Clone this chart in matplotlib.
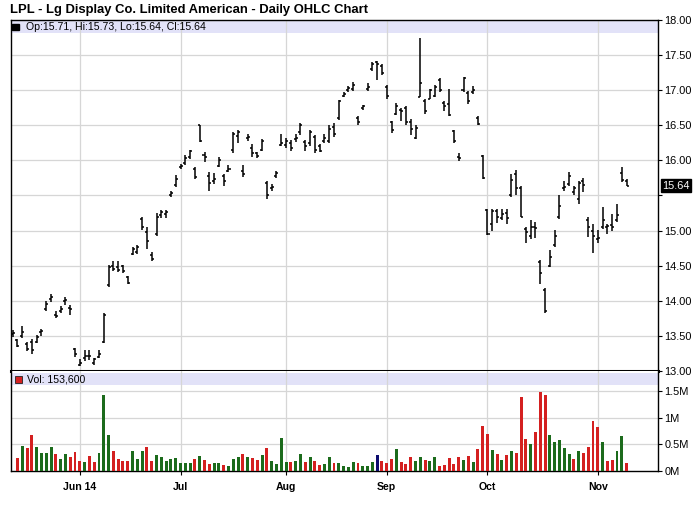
import numpy as np
import pandas as pd
import matplotlib
matplotlib.use("Agg")
import matplotlib.pyplot as plt
from matplotlib.patches import Rectangle

plt.rcParams['font.family'] = ['Liberation Sans', 'DejaVu Sans']

title = "LPL - Lg Display Co. Limited American - Daily OHLC Chart"
start_date = "2014-05-12"
end_date = "2014-11-11"
holidays = ["2014-05-26", "2014-07-04", "2014-09-01"]

opens = [13.53, 13.44, 13.50, 13.38, 13.42, 13.42, 13.55, 13.88, 14.02, 13.80,
         13.85, 14.00, 13.90, 13.32, 13.08, 13.18, 13.22, 13.12, 13.20, 13.42,
         14.22, 14.50, 14.48, 14.49, 14.34, 14.66, 14.70, 15.16, 14.98, 14.65,
         14.95, 15.22, 15.24, 15.50, 15.65, 15.90, 15.96, 16.05, 15.88, 16.50,
         16.08, 15.78, 15.70, 15.92, 15.78, 15.85, 16.15, 16.35, 15.85, 16.32,
         16.18, 16.10, 16.15, 15.68, 15.60, 15.78, 16.22, 16.22, 16.25, 16.30,
         16.40, 16.26, 16.25, 16.34, 16.20, 16.28, 16.28, 16.48, 16.60, 16.92,
         17.00, 17.02, 16.60, 16.74, 17.02, 17.30, 17.40, 17.35, 17.05, 16.54,
         16.66, 16.72, 16.75, 16.55, 16.32, 16.91, 16.85, 16.88, 16.92, 17.15,
         16.82, 16.80, 16.42, 16.05, 17.00, 16.96, 16.97, 16.60, 16.06, 15.30,
         15.10, 15.28, 15.18, 15.25, 15.50, 15.80, 15.60, 15.02, 14.92, 15.05,
         14.55, 14.15, 14.50, 14.80, 15.20, 15.60, 15.66, 15.55, 15.45, 15.70,
         15.15, 15.00, 14.88, 15.05, 15.05, 15.08, 15.15, 15.82, 15.71]
highs = [13.58, 13.45, 13.64, 13.41, 13.46, 13.51, 13.60, 14.00, 14.09, 13.85,
         13.92, 14.05, 13.94, 13.33, 13.17, 13.30, 13.30, 13.19, 13.30, 13.83,
         14.51, 14.56, 14.56, 14.51, 14.36, 14.77, 14.79, 15.19, 15.05, 14.69,
         15.25, 15.29, 15.29, 15.57, 15.79, 15.95, 16.07, 16.15, 15.90, 16.51,
         16.12, 15.83, 15.82, 16.05, 15.80, 15.93, 16.41, 16.44, 15.94, 16.38,
         16.24, 16.12, 16.31, 15.71, 15.67, 15.85, 16.38, 16.32, 16.29, 16.38,
         16.53, 16.29, 16.44, 16.36, 16.24, 16.37, 16.50, 16.53, 16.86, 16.98,
         17.06, 17.12, 16.63, 16.79, 17.10, 17.40, 17.42, 17.37, 17.07, 16.56,
         16.82, 16.75, 16.77, 16.59, 16.50, 17.74, 16.88, 17.02, 17.08, 17.17,
         16.85, 17.01, 16.44, 16.10, 17.19, 16.99, 17.06, 16.63, 16.08, 15.31,
         15.31, 15.31, 15.31, 15.31, 15.81, 15.87, 15.63, 15.05, 15.15, 15.12,
         14.58, 14.18, 14.72, 15.01, 15.50, 15.71, 15.83, 15.63, 15.71, 15.75,
         15.19, 15.10, 15.01, 15.33, 15.09, 15.23, 15.38, 15.90, 15.73]
lows = [13.48, 13.34, 13.47, 13.29, 13.24, 13.40, 13.50, 13.86, 13.98, 13.75,
        13.83, 13.94, 13.80, 13.20, 13.07, 13.14, 13.15, 13.09, 13.18, 13.40,
        14.20, 14.43, 14.41, 14.40, 14.24, 14.65, 14.67, 15.01, 14.74, 14.57,
        14.93, 15.18, 15.18, 15.48, 15.62, 15.88, 15.94, 16.02, 15.74, 16.26,
        15.98, 15.57, 15.67, 15.90, 15.64, 15.83, 16.10, 16.25, 15.76, 16.28,
        16.05, 16.04, 16.13, 15.45, 15.57, 15.75, 16.21, 16.17, 16.14, 16.26,
        16.36, 16.13, 16.21, 16.10, 16.12, 16.25, 16.25, 16.33, 16.58, 16.90,
        16.98, 16.99, 16.51, 16.72, 16.99, 17.28, 17.15, 17.21, 16.88, 16.39,
        16.64, 16.56, 16.51, 16.36, 16.30, 16.90, 16.66, 16.87, 16.90, 16.98,
        16.71, 16.63, 16.25, 15.99, 16.98, 16.81, 16.94, 16.50, 15.74, 14.94,
        15.00, 15.11, 15.15, 15.10, 15.48, 15.50, 15.19, 14.82, 14.88, 14.90,
        14.24, 13.83, 14.48, 14.76, 15.17, 15.57, 15.64, 15.50, 15.38, 15.55,
        14.91, 14.68, 14.82, 15.02, 14.95, 14.99, 15.12, 15.69, 15.64]
closes = [13.54, 13.36, 13.55, 13.32, 13.30, 13.48, 13.57, 13.96, 14.05, 13.79,
          13.88, 14.01, 13.88, 13.24, 13.12, 13.22, 13.21, 13.17, 13.24, 13.80,
          14.48, 14.45, 14.44, 14.42, 14.26, 14.74, 14.76, 15.05, 14.85, 14.60,
          15.20, 15.26, 15.27, 15.53, 15.74, 15.92, 16.03, 16.13, 15.76, 16.28,
          16.05, 15.68, 15.74, 16.00, 15.70, 15.88, 16.38, 16.40, 15.80, 16.34,
          16.10, 16.06, 16.28, 15.50, 15.62, 15.82, 16.25, 16.28, 16.18, 16.32,
          16.50, 16.20, 16.40, 16.15, 16.14, 16.32, 16.45, 16.38, 16.84, 16.95,
          17.03, 17.08, 16.55, 16.77, 17.05, 17.38, 17.38, 17.25, 16.92, 16.44,
          16.78, 16.70, 16.55, 16.45, 16.46, 17.10, 16.70, 17.00, 17.05, 17.00,
          16.78, 16.65, 16.27, 16.04, 17.18, 16.85, 17.00, 16.52, 15.75, 14.95,
          15.28, 15.20, 15.24, 15.18, 15.72, 15.60, 15.20, 14.98, 15.05, 15.04,
          14.40, 13.85, 14.62, 14.92, 15.35, 15.62, 15.78, 15.60, 15.68, 15.65,
          15.05, 14.92, 14.90, 15.15, 15.06, 15.05, 15.22, 15.72, 15.64]
volumes_m = [0.0, 0.25, 0.47, 0.44, 0.68, 0.45, 0.34, 0.34, 0.45, 0.32,
             0.22, 0.32, 0.27, 0.36, 0.19, 0.17, 0.29, 0.16, 0.34, 1.43,
             0.68, 0.38, 0.22, 0.19, 0.19, 0.37, 0.22, 0.37, 0.45, 0.19,
             0.30, 0.26, 0.19, 0.22, 0.24, 0.15, 0.15, 0.15, 0.22, 0.28,
             0.21, 0.13, 0.15, 0.15, 0.11, 0.09, 0.22, 0.27, 0.32, 0.27,
             0.24, 0.21, 0.30, 0.43, 0.19, 0.13, 0.62, 0.16, 0.17, 0.19,
             0.32, 0.17, 0.26, 0.19, 0.11, 0.13, 0.26, 0.15, 0.15, 0.09,
             0.075, 0.17, 0.15, 0.09, 0.09, 0.17, 0.30, 0.19, 0.15, 0.225,
             0.41, 0.17, 0.13, 0.26, 0.19, 0.26, 0.21, 0.19, 0.26, 0.09,
             0.11, 0.24, 0.13, 0.26, 0.21, 0.28, 0.17, 0.42, 0.85, 0.70,
             0.40, 0.31, 0.21, 0.30, 0.38, 0.34, 1.38, 0.60, 0.50, 0.74,
             1.48, 1.43, 0.68, 0.55, 0.59, 0.44, 0.31, 0.22, 0.38, 0.34,
             0.45, 0.94, 0.83, 0.55, 0.19, 0.20, 0.38, 0.66, 0.1536]

# ---------------------------------------------------------------
dates = pd.bdate_range(start_date, end_date)
dates = dates[~dates.isin(pd.to_datetime(holidays))]
n = len(closes)
x = np.arange(n)
o, h, l, c = map(np.array, (opens, highs, lows, closes))
vol = np.array(volumes_m) * 1e6

W, H = 700, 512
fig = plt.figure(figsize=(W / 100, H / 100), dpi=100)
fig.patch.set_facecolor('white')

def fx(px):
    return px / W

def fy(py):
    return 1 - py / H

left_px, right_px = 10.5, 658
ax = fig.add_axes([fx(left_px), fy(371), fx(right_px - left_px), (371 - 20) / H])
axv = fig.add_axes([fx(left_px), fy(471), fx(right_px - left_px), (471 - 371) / H], sharex=ax)

grid_c = '#d6d6d6'
band_c = '#e2e2f8'
lab_fs = 7.9

# month ticks
month_start = [i for i in range(1, n) if dates[i].month != dates[i - 1].month]
month_labels = []
for k, i in enumerate(month_start):
    if k == 0:
        month_labels.append(dates[i].strftime('%b %y'))
    else:
        month_labels.append(dates[i].strftime('%b'))

# ---- price panel
ax.set_xlim(-0.45, 134.55)
ax.set_ylim(13, 18)
pticks = np.arange(13, 18.01, 0.5)
for yv in pticks:
    ax.axhline(yv, color=grid_c, lw=0.9, zorder=1)
for i in month_start:
    ax.axvline(i, color=grid_c, lw=0.9, zorder=1)
ax.add_patch(Rectangle((0, 1 - 13 / 351), 1, 12.5 / 351, transform=ax.transAxes,
                       facecolor=band_c, edgecolor='none', zorder=0.5))

tick_w = 0.42
ax.vlines(x, l, h, color='black', lw=1.1, zorder=3)
ax.hlines(o, x - tick_w, x, color='black', lw=1.1, zorder=3)
ax.hlines(c, x, x + tick_w, color='black', lw=1.1, zorder=3)

ax.yaxis.tick_right()
ax.set_yticks(pticks)
plabels = ['%.2f' % v for v in pticks]
last = c[-1]
plabels = ['' if abs(v - last) < 0.2 else s for v, s in zip(pticks, plabels)]
ax.set_yticklabels(plabels)
ax.tick_params(axis='y', direction='out', length=3, width=0.8, pad=1.5,
               labelsize=lab_fs, colors='black')
ax.tick_params(axis='x', which='both', bottom=False, labelbottom=False)
for s in ax.spines.values():
    s.set_color('black')
    s.set_linewidth(1.0)
ax.spines['bottom'].set_linewidth(2.2)

ax.text(1.0 + 4 / (right_px - left_px), last, '%.2f' % last, transform=ax.get_yaxis_transform(),
        ha='left', va='center', fontsize=lab_fs, color='white',
        bbox=dict(boxstyle='square,pad=0.12', facecolor='black', edgecolor='black'),
        zorder=5, clip_on=False)

# ---- volume panel
ymax_v = 1.875e6
axv.set_ylim(0, ymax_v)
for yv in [0.5e6, 1.0e6, 1.5e6]:
    axv.axhline(yv, color=grid_c, lw=0.9, zorder=1)
for i in month_start:
    axv.axvline(i, color=grid_c, lw=0.9, zorder=1)
axv.add_patch(Rectangle((0, 1 - 13.5 / 100), 1, 12 / 100, transform=axv.transAxes,
                        facecolor=band_c, edgecolor='none', zorder=0.5))
cols = []
for i in range(n):
    if i == 0:
        cols.append('#d42020')
    elif c[i] > c[i - 1]:
        cols.append('#1c6b1c')
    elif c[i] < c[i - 1]:
        cols.append('#d42020')
    else:
        cols.append('#0c0c6e')
axv.bar(x, vol, width=0.62, color=cols, zorder=3, linewidth=0)
axv.yaxis.tick_right()
axv.set_yticks([0, 0.5e6, 1e6, 1.5e6])
axv.set_yticklabels(['0M', '0.5M', '1M', '1.5M'])
axv.tick_params(axis='y', direction='out', length=3, width=0.8, pad=1.5,
                labelsize=lab_fs, colors='black')
axv.set_xticks(month_start)
axv.set_xticklabels(month_labels, fontweight='bold')
axv.tick_params(axis='x', direction='out', length=3, width=0.8, pad=5,
                labelsize=7.6, colors='black')
for s in axv.spines.values():
    s.set_color('black')
    s.set_linewidth(1.0)
axv.spines['top'].set_visible(False)

# ---- texts
fig.text(fx(10), fy(10), title, ha='left', va='center', fontsize=9.4,
         fontweight='bold', color='black')
fig.patches.append(Rectangle((fx(12), fy(30)), fx(6.5), 6.5 / H, transform=fig.transFigure,
                             facecolor='black', edgecolor='black', figure=fig))
fig.text(fx(26), fy(27), 'Op:%.2f, Hi:%.2f, Lo:%.2f, Cl:%.2f' % (o[-1], h[-1], l[-1], c[-1]),
         ha='left', va='center', fontsize=7.6, color='black')
fig.patches.append(Rectangle((fx(15.5), fy(382.5)), fx(7), 7 / H, transform=fig.transFigure,
                             facecolor='#d42020', edgecolor='#222222', lw=0.6, figure=fig))
fig.text(fx(27), fy(379), 'Vol: {:,}'.format(int(round(vol[-1]))),
         ha='left', va='center', fontsize=7.6, color='black')

fig.savefig('out.png', dpi=100)
